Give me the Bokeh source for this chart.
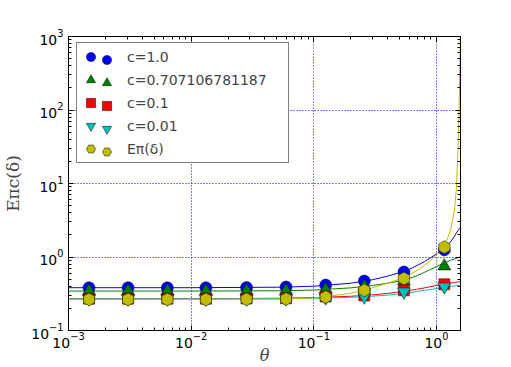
import numpy as np
from bokeh.plotting import figure
from bokeh.models import (Legend, LegendItem, LogAxis, FixedTicker, LogTickFormatter,
                          CustomJSTickFormatter, Range1d)
from bokeh.embed import file_html
from bokeh.resources import INLINE

# ---- data ----
theta_pts = [0.00147, 0.00306, 0.0064, 0.0132, 0.0283, 0.0594, 0.125, 0.258, 0.543, 1.16]
pts_c1 = [0.382, 0.382, 0.382, 0.382, 0.384, 0.39, 0.415, 0.47, 0.625, 1.25]
pts_c07 = [0.344, 0.344, 0.344, 0.344, 0.345, 0.35, 0.36, 0.40, 0.47, 0.75]
pts_c01 = [0.271, 0.271, 0.271, 0.271, 0.272, 0.275, 0.29, 0.30, 0.352, 0.425]
pts_c001 = [0.27, 0.27, 0.27, 0.27, 0.27, 0.272, 0.28, 0.288, 0.337, 0.394]
pts_E = [0.265, 0.265, 0.265, 0.265, 0.266, 0.268, 0.285, 0.352, 0.51, 1.36]

theta_curve = [0.001, 0.01, 0.05, 0.1, 0.2, 0.3, 0.4, 0.5, 0.6, 0.7, 0.8, 0.9, 1.0,
               1.1, 1.2, 1.3, 1.4, 1.45, 1.5, 1.53, 1.545, 1.56, 1.5708]
curve_c1 = [0.382, 0.382, 0.388, 0.40, 0.44, 0.49, 0.55, 0.61, 0.68, 0.77, 0.87, 0.98, 1.1,
            1.22, 1.38, 1.6, 1.9, 2.1, 2.3, 2.4, 2.45, 2.48, 2.5]
curve_c07 = [0.344, 0.344, 0.347, 0.355, 0.38, 0.41, 0.44, 0.47, 0.51, 0.56, 0.62, 0.68, 0.74,
             0.80, 0.85, 0.9, 0.94, 0.96, 0.98, 0.99, 0.995, 1.0, 1.0]
curve_c01 = [0.271, 0.271, 0.274, 0.28, 0.292, 0.305, 0.32, 0.335, 0.35, 0.365, 0.38, 0.395, 0.41,
             0.42, 0.43, 0.44, 0.45, 0.455, 0.46, 0.46, 0.46, 0.46, 0.46]
curve_c001 = [0.27, 0.27, 0.271, 0.274, 0.283, 0.293, 0.303, 0.315, 0.327, 0.34, 0.352, 0.362, 0.372,
              0.382, 0.39, 0.398, 0.405, 0.408, 0.41, 0.411, 0.412, 0.413, 0.413]
curve_E = [0.265, 0.265, 0.267, 0.276, 0.32, 0.38, 0.44, 0.50, 0.57, 0.66, 0.77, 0.9, 1.07,
           1.28, 1.6, 2.3, 4.2, 8.0, 30.0, 100.0, 250.0, 700.0, 2000.0]

labels = ["c=1.0", "c=0.707106781187", "c=0.1", "c=0.01", "Eπ(δ)"]
x_major = [1e-3, 1e-2, 1e-1, 1e0]
y_major = [1e-1, 1e0, 1e1, 1e2, 1e3]

# ---- styles ----
colors = ["#0000ff", "#008000", "#ff0000", "#00bfbf", "#bfbf00"]
markers = ["circle", "triangle", "square", "inverted_triangle", "hex"]
angles = [0.0, 0.0, 0.0, 0.0, np.pi / 2]
sizes = [12, 13, 11, 13, 13]

pts = [pts_c1, pts_c07, pts_c01, pts_c001, pts_E]
curves = [curve_c1, curve_c07, curve_c01, curve_c001, curve_E]

x_minor = [k * 10.0 ** e for e in range(-3, 1) for k in range(2, 10)]
y_minor = [k * 10.0 ** e for e in range(-1, 3) for k in range(2, 10)]

p = figure(width=511, height=367, x_axis_type="log", y_axis_type="log",
           x_range=Range1d(1e-3, np.pi / 2), y_range=Range1d(0.1, 1000),
           output_backend="svg", toolbar_location=None,
           min_border_left=64, min_border_right=51, min_border_top=36, min_border_bottom=37)

p.outline_line_color = "black"
p.outline_line_width = 1
p.background_fill_color = "white"
p.border_fill_color = "white"

for g in (p.xgrid, p.ygrid):
    g.grid_line_color = "blue"
    g.grid_line_dash = "1 2"
    g.grid_line_width = 1

p.xgrid.ticker = FixedTicker(ticks=x_major)
p.ygrid.ticker = FixedTicker(ticks=y_major)

def style_axis(ax, ticks, minor, labels_on=True):
    ax.ticker = FixedTicker(ticks=ticks, minor_ticks=minor)
    if labels_on:
        ax.formatter = LogTickFormatter()
    else:
        ax.formatter = CustomJSTickFormatter(code="return ''")
    ax.major_tick_in = 5
    ax.major_tick_out = 0
    ax.minor_tick_in = 3
    ax.minor_tick_out = 0
    ax.axis_line_color = "black"
    ax.major_tick_line_color = "black"
    ax.minor_tick_line_color = "black"
    ax.major_label_text_font = "DejaVu Sans"
    ax.major_label_text_font_size = "14px"
    ax.major_label_text_color = "black"

style_axis(p.xaxis[0], x_major, x_minor)
style_axis(p.yaxis[0], y_major, y_minor)
p.xaxis[0].major_label_standoff = 1
p.yaxis[0].major_label_standoff = 5

p.xaxis[0].axis_label = "θ"
p.xaxis[0].axis_label_text_font = "DejaVu Serif"
p.xaxis[0].axis_label_text_font_style = "italic"
p.xaxis[0].axis_label_text_font_size = "16px"
p.xaxis[0].axis_label_standoff = -5

p.yaxis[0].axis_label = "Eπc(δ)"
p.yaxis[0].axis_label_text_font = "DejaVu Serif"
p.yaxis[0].axis_label_text_font_style = "normal"
p.yaxis[0].axis_label_text_font_size = "17px"
p.yaxis[0].axis_label_standoff = 5

top_ax = LogAxis()
style_axis(top_ax, x_major, x_minor, labels_on=False)
top_ax.major_label_standoff = 0
p.add_layout(top_ax, "above")
right_ax = LogAxis()
style_axis(right_ax, y_major, y_minor, labels_on=False)
right_ax.major_label_standoff = 0
p.add_layout(right_ax, "right")

for c, ys in zip(colors, curves):
    p.line(theta_curve, ys, line_color=c, line_width=1)

marker_renderers = []
for c, m, a, s, ys in zip(colors, markers, angles, sizes, pts):
    r = p.scatter(theta_pts, ys, marker=m, size=s, angle=a, fill_color=c,
                  line_color="black", line_width=0.5)
    marker_renderers.append(r)

leg1 = Legend(items=[LegendItem(label=lab, renderers=[r]) for lab, r in zip(labels, marker_renderers)],
              location=(8, 167), padding=2, spacing=0, glyph_width=23, glyph_height=23,
              label_height=23, label_width=159, label_standoff=25,
              label_text_font="DejaVu Sans", label_text_font_size="14px",
              border_line_color="black", border_line_width=1,
              background_fill_color="white", background_fill_alpha=1.0, margin=0)
leg2 = Legend(items=[LegendItem(label="", renderers=[r]) for r in marker_renderers],
              location=(27, 167), padding=2, spacing=0, glyph_width=23, glyph_height=23,
              label_height=23, label_width=0, label_standoff=0,
              label_text_font_size="1px",
              border_line_color=None, background_fill_alpha=0.0, margin=0)
p.add_layout(leg1)
p.add_layout(leg2)

open("out.html", "w").write(file_html(p, INLINE))
